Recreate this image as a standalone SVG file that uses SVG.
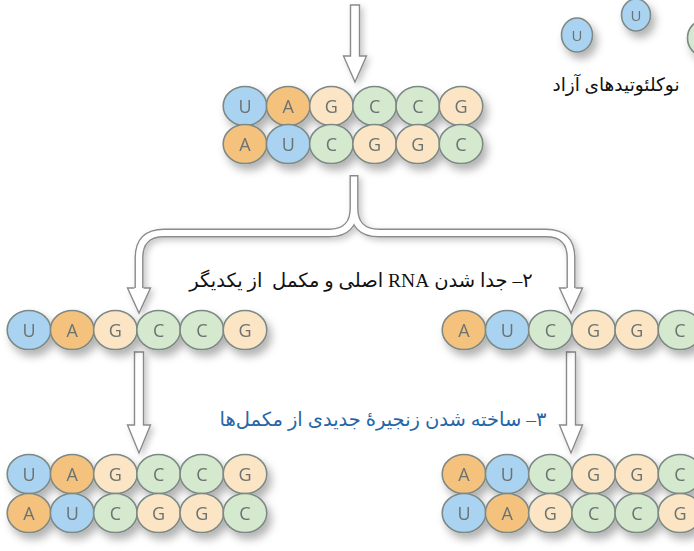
<svg xmlns="http://www.w3.org/2000/svg" width="694" height="551" viewBox="0 0 694 551">
<style>
.u{fill:#a9d3f0}.a{fill:#f5c27e}.g{fill:#fce5c4}.c{fill:#d5e9cf}
.nt{stroke:#7d8985;stroke-width:1.6}
.lt{font-family:"Open Sans","DejaVu Sans",sans-serif;font-size:18px;fill:#6b7371;text-anchor:middle}
.sm{font-size:15px}
.arr{fill:#fff;stroke:#8a8a8a;stroke-width:1.4;stroke-linejoin:miter}
.lbl{font-family:"Liberation Serif","DejaVu Sans",serif;font-size:19.5px;fill:#111}
.blue{fill:#2566a8}
</style>
<defs>
<filter id="sh" x="-10%" y="-20%" width="125%" height="160%">
<feDropShadow dx="4" dy="6" stdDeviation="4" flood-color="#000" flood-opacity="0.3"/>
</filter>
<filter id="ash" x="-50%" y="-20%" width="200%" height="140%">
<feDropShadow dx="3" dy="3" stdDeviation="3" flood-color="#000" flood-opacity="0.22"/>
</filter>
</defs>
<rect width="694" height="551" fill="#fff"/>

<g id="connectors" filter="url(#ash)">
<polygon class="arr" points="350.5,5 359.5,5 359.5,56 366.5,56 355,82 343.5,56 350.5,56"/>
<path d="M354,175 V208 Q354,233 329,233 H164 Q139,233 139,258 V288 M354,208 Q354,233 379,233 H546 Q571,233 571,258 V288" fill="none" stroke="#8a8a8a" stroke-width="9"/>
<path d="M354,176.4 V208 Q354,233 329,233 H164 Q139,233 139,258 V289 M354,208 Q354,233 379,233 H546 Q571,233 571,258 V289" fill="none" stroke="#fff" stroke-width="6.2"/>
<path class="arr" d="M134.5,288 H127.5 L139,313 L150.5,288 H143.5"/>
<path class="arr" d="M566.5,288 H559.5 L571,313 L582.5,288 H575.5"/>
<polygon class="arr" points="134.5,352 143.5,352 143.5,425 150.5,425 139,453 127.5,425 134.5,425"/>
<polygon class="arr" points="566.5,352 575.5,352 575.5,425 582.5,425 571,453 559.5,425 566.5,425"/>
</g>

<g id="free-nucleotides" filter="url(#sh)">
<ellipse class="nt u" cx="577" cy="35" rx="15.5" ry="17"/><text class="lt sm" x="577" y="40.5">U</text>
<ellipse class="nt u" cx="636" cy="15" rx="14.5" ry="16"/><text class="lt sm" x="636" y="20.5">U</text>
<ellipse class="nt c" cx="703" cy="38" rx="15.5" ry="17.5"/>
</g>
<g id="label-free">
<text class="lbl" x="616" y="91" style="font-size:18.5px" text-anchor="middle" direction="rtl" unicode-bidi="embed">نوکلئوتیدهای آزاد</text>
</g>

<g id="strand-top" filter="url(#sh)">
<ellipse class="nt u" cx="245" cy="106" rx="21.8" ry="19.5"/><text class="lt" x="245" y="112.5">U</text>
<ellipse class="nt a" cx="288.2" cy="106" rx="21.8" ry="19.5"/><text class="lt" x="288.2" y="112.5">A</text>
<ellipse class="nt g" cx="331.4" cy="106" rx="21.8" ry="19.5"/><text class="lt" x="331.4" y="112.5">G</text>
<ellipse class="nt c" cx="374.6" cy="106" rx="21.8" ry="19.5"/><text class="lt" x="374.6" y="112.5">C</text>
<ellipse class="nt c" cx="417.8" cy="106" rx="21.8" ry="19.5"/><text class="lt" x="417.8" y="112.5">C</text>
<ellipse class="nt g" cx="461" cy="106" rx="21.8" ry="19.5"/><text class="lt" x="461" y="112.5">G</text>
<ellipse class="nt a" cx="245" cy="144" rx="21.8" ry="19.5"/><text class="lt" x="245" y="150.5">A</text>
<ellipse class="nt u" cx="288.2" cy="144" rx="21.8" ry="19.5"/><text class="lt" x="288.2" y="150.5">U</text>
<ellipse class="nt c" cx="331.4" cy="144" rx="21.8" ry="19.5"/><text class="lt" x="331.4" y="150.5">C</text>
<ellipse class="nt g" cx="374.6" cy="144" rx="21.8" ry="19.5"/><text class="lt" x="374.6" y="150.5">G</text>
<ellipse class="nt g" cx="417.8" cy="144" rx="21.8" ry="19.5"/><text class="lt" x="417.8" y="150.5">G</text>
<ellipse class="nt c" cx="461" cy="144" rx="21.8" ry="19.5"/><text class="lt" x="461" y="150.5">C</text>
</g>

<g id="label-separate">
<text class="lbl" x="361" y="287" text-anchor="middle" direction="rtl" unicode-bidi="embed" xml:space="preserve">۲– جدا شدن RNA اصلی و مکمل  از یکدیگر</text>
</g>

<g id="strand-left" filter="url(#sh)">
<ellipse class="nt u" cx="29" cy="330" rx="21.8" ry="19.5"/><text class="lt" x="29" y="336.5">U</text>
<ellipse class="nt a" cx="72.2" cy="330" rx="21.8" ry="19.5"/><text class="lt" x="72.2" y="336.5">A</text>
<ellipse class="nt g" cx="115.4" cy="330" rx="21.8" ry="19.5"/><text class="lt" x="115.4" y="336.5">G</text>
<ellipse class="nt c" cx="158.6" cy="330" rx="21.8" ry="19.5"/><text class="lt" x="158.6" y="336.5">C</text>
<ellipse class="nt c" cx="201.8" cy="330" rx="21.8" ry="19.5"/><text class="lt" x="201.8" y="336.5">C</text>
<ellipse class="nt g" cx="245" cy="330" rx="21.8" ry="19.5"/><text class="lt" x="245" y="336.5">G</text>
</g>

<g id="strand-right" filter="url(#sh)">
<ellipse class="nt a" cx="464" cy="330" rx="21.8" ry="19.5"/><text class="lt" x="464" y="336.5">A</text>
<ellipse class="nt u" cx="507.2" cy="330" rx="21.8" ry="19.5"/><text class="lt" x="507.2" y="336.5">U</text>
<ellipse class="nt c" cx="550.4" cy="330" rx="21.8" ry="19.5"/><text class="lt" x="550.4" y="336.5">C</text>
<ellipse class="nt g" cx="593.6" cy="330" rx="21.8" ry="19.5"/><text class="lt" x="593.6" y="336.5">G</text>
<ellipse class="nt g" cx="636.8" cy="330" rx="21.8" ry="19.5"/><text class="lt" x="636.8" y="336.5">G</text>
<ellipse class="nt c" cx="680" cy="330" rx="21.8" ry="19.5"/><text class="lt" x="680" y="336.5">C</text>
</g>

<g id="label-synth">
<text class="lbl blue" x="383" y="426" text-anchor="middle" direction="rtl" unicode-bidi="embed">۳– ساخته شدن زنجیرهٔ جدیدی از مکمل‌ها</text>
</g>

<g id="pair-left" filter="url(#sh)">
<ellipse class="nt u" cx="29" cy="474" rx="21.8" ry="19.5"/><text class="lt" x="29" y="480.5">U</text>
<ellipse class="nt a" cx="72.2" cy="474" rx="21.8" ry="19.5"/><text class="lt" x="72.2" y="480.5">A</text>
<ellipse class="nt g" cx="115.4" cy="474" rx="21.8" ry="19.5"/><text class="lt" x="115.4" y="480.5">G</text>
<ellipse class="nt c" cx="158.6" cy="474" rx="21.8" ry="19.5"/><text class="lt" x="158.6" y="480.5">C</text>
<ellipse class="nt c" cx="201.8" cy="474" rx="21.8" ry="19.5"/><text class="lt" x="201.8" y="480.5">C</text>
<ellipse class="nt g" cx="245" cy="474" rx="21.8" ry="19.5"/><text class="lt" x="245" y="480.5">G</text>
<ellipse class="nt a" cx="29" cy="513" rx="21.8" ry="19.5"/><text class="lt" x="29" y="519.5">A</text>
<ellipse class="nt u" cx="72.2" cy="513" rx="21.8" ry="19.5"/><text class="lt" x="72.2" y="519.5">U</text>
<ellipse class="nt c" cx="115.4" cy="513" rx="21.8" ry="19.5"/><text class="lt" x="115.4" y="519.5">C</text>
<ellipse class="nt g" cx="158.6" cy="513" rx="21.8" ry="19.5"/><text class="lt" x="158.6" y="519.5">G</text>
<ellipse class="nt g" cx="201.8" cy="513" rx="21.8" ry="19.5"/><text class="lt" x="201.8" y="519.5">G</text>
<ellipse class="nt c" cx="245" cy="513" rx="21.8" ry="19.5"/><text class="lt" x="245" y="519.5">C</text>
</g>

<g id="pair-right" filter="url(#sh)">
<ellipse class="nt a" cx="464" cy="474" rx="21.8" ry="19.5"/><text class="lt" x="464" y="480.5">A</text>
<ellipse class="nt u" cx="507.2" cy="474" rx="21.8" ry="19.5"/><text class="lt" x="507.2" y="480.5">U</text>
<ellipse class="nt c" cx="550.4" cy="474" rx="21.8" ry="19.5"/><text class="lt" x="550.4" y="480.5">C</text>
<ellipse class="nt g" cx="593.6" cy="474" rx="21.8" ry="19.5"/><text class="lt" x="593.6" y="480.5">G</text>
<ellipse class="nt g" cx="636.8" cy="474" rx="21.8" ry="19.5"/><text class="lt" x="636.8" y="480.5">G</text>
<ellipse class="nt c" cx="680" cy="474" rx="21.8" ry="19.5"/><text class="lt" x="680" y="480.5">C</text>
<ellipse class="nt u" cx="464" cy="513" rx="21.8" ry="19.5"/><text class="lt" x="464" y="519.5">U</text>
<ellipse class="nt a" cx="507.2" cy="513" rx="21.8" ry="19.5"/><text class="lt" x="507.2" y="519.5">A</text>
<ellipse class="nt g" cx="550.4" cy="513" rx="21.8" ry="19.5"/><text class="lt" x="550.4" y="519.5">G</text>
<ellipse class="nt c" cx="593.6" cy="513" rx="21.8" ry="19.5"/><text class="lt" x="593.6" y="519.5">C</text>
<ellipse class="nt c" cx="636.8" cy="513" rx="21.8" ry="19.5"/><text class="lt" x="636.8" y="519.5">C</text>
<ellipse class="nt g" cx="680" cy="513" rx="21.8" ry="19.5"/><text class="lt" x="680" y="519.5">G</text>
</g>
</svg>
